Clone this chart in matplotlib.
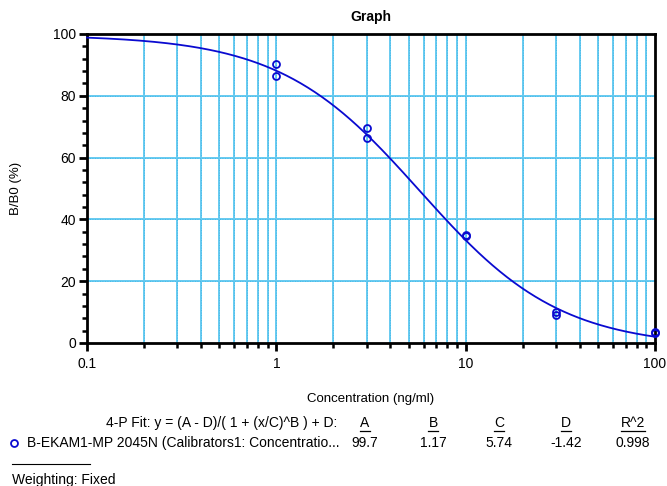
import numpy as np
import matplotlib
matplotlib.use("Agg")
import matplotlib.pyplot as plt
from matplotlib.lines import Line2D
from matplotlib.ticker import FixedLocator, NullFormatter, MultipleLocator

plt.rcParams['font.family'] = ['Liberation Sans', 'DejaVu Sans']

# Data
conc = [1, 1, 3, 3, 10, 10, 30, 30, 100, 100]
bb0 = [90.2, 86.3, 69.5, 66.2, 35.1, 34.7, 10.0, 9.2, 3.5, 3.2]
# 4-P fit parameters
fit_A, fit_B, fit_C, fit_D, fit_R2 = 99.7, 1.17, 5.74, -1.42, 0.998
param_labels = ["A", "B", "C", "D", "R^2"]
param_values = ["99.7", "1.17", "5.74", "-1.42", "0.998"]
x_ticks = [0.1, 1, 10, 100]
x_ticklabels = ["0.1", "1", "10", "100"]
y_ticks = [0, 20, 40, 60, 80, 100]

W, H = 667, 486
fig = plt.figure(figsize=(W / 100, H / 100), dpi=100)
ax = fig.add_axes([87 / W, 1 - 343 / H, (655 - 87) / W, (343 - 34) / H])

grid_color = '#66caf0'
dot_color = '#3bb5e8'
ax.set_xscale('log')
ax.set_xlim(0.1, 100)
ax.set_ylim(0, 100)

# grid lines
minor_x = [m * 10.0 ** e for e in (-1, 0, 1) for m in range(2, 10)]
for xv in minor_x + [1, 10]:
    ax.axvline(xv, color=grid_color, lw=1.4, zorder=1)
    ax.axvline(xv, color=dot_color, lw=0.6, ls=(0, (1, 2)), zorder=1)
for yv in [20, 40, 60, 80]:
    ax.axhline(yv, color=grid_color, lw=1.4, zorder=1)
    ax.axhline(yv, color=dot_color, lw=0.6, ls=(0, (1, 2)), zorder=1)

xs = np.logspace(-1, 2, 400)
ys = (fit_A - fit_D) / (1 + (xs / fit_C) ** fit_B) + fit_D
ax.plot(xs, ys, color='#0a0ad0', lw=1.3, zorder=3, clip_on=False)
ax.plot(conc, bb0, ls='none', marker='o', ms=5, mfc='none', mec='#0a0ad0', mew=1.3,
        zorder=4, clip_on=False)

ax.set_xticks(x_ticks)
ax.set_xticklabels(x_ticklabels)
ax.xaxis.set_minor_locator(FixedLocator(minor_x))
ax.xaxis.set_minor_formatter(NullFormatter())
ax.set_yticks(y_ticks)
ax.yaxis.set_minor_locator(MultipleLocator(4))
ax.tick_params(axis='both', which='major', direction='out', length=6, width=2, labelsize=10, pad=2)
ax.tick_params(axis='both', which='minor', direction='out', length=3.5, width=1.8)
ax.tick_params(axis='x', which='major', pad=4)
for sp in ax.spines.values():
    sp.set_linewidth(2)

ax.set_title('Graph', fontsize=10, fontweight='bold', pad=9)
ax.set_xlabel('Concentration (ng/ml)', fontsize=9.5, labelpad=16)
ax.set_ylabel('B/B0 (%)', fontsize=9.5, labelpad=22)

# table below
def fy(py):
    return 1 - py / H

def fx(px):
    return px / W

tfs = 10
fig.text(fx(337), fy(423), '4-P Fit: y = (A - D)/( 1 + (x/C)^B ) + D:', ha='right', va='center', fontsize=tfs)
col_x = [365, 433, 499, 566, 633]
fig.canvas.draw()
renderer = fig.canvas.get_renderer()
for cx, lab, val in zip(col_x, param_labels, param_values):
    t = fig.text(fx(cx), fy(423), lab, ha='center', va='center', fontsize=tfs)
    bb = t.get_window_extent(renderer)
    fig.add_artist(Line2D([bb.x0 / W, bb.x1 / W], [(bb.y0 - 1) / H, (bb.y0 - 1) / H],
                          color='black', lw=0.9, transform=fig.transFigure))
    fig.text(fx(cx), fy(443), val, ha='center', va='center', fontsize=tfs)

fig.add_artist(Line2D([fx(14)], [fy(443)], marker='o', ms=5, mfc='none', mec='#0a0ad0', mew=1.3,
                      transform=fig.transFigure))
fig.text(fx(27), fy(443), 'B-EKAM1-MP 2045N (Calibrators1: Concentratio...', ha='left', va='center', fontsize=tfs)
fig.add_artist(Line2D([fx(12), fx(90)], [fy(464), fy(464)], color='black', lw=0.8, transform=fig.transFigure))
fig.text(fx(12), fy(480), 'Weighting: Fixed', ha='left', va='center', fontsize=tfs)

fig.savefig('out.png', dpi=100)
